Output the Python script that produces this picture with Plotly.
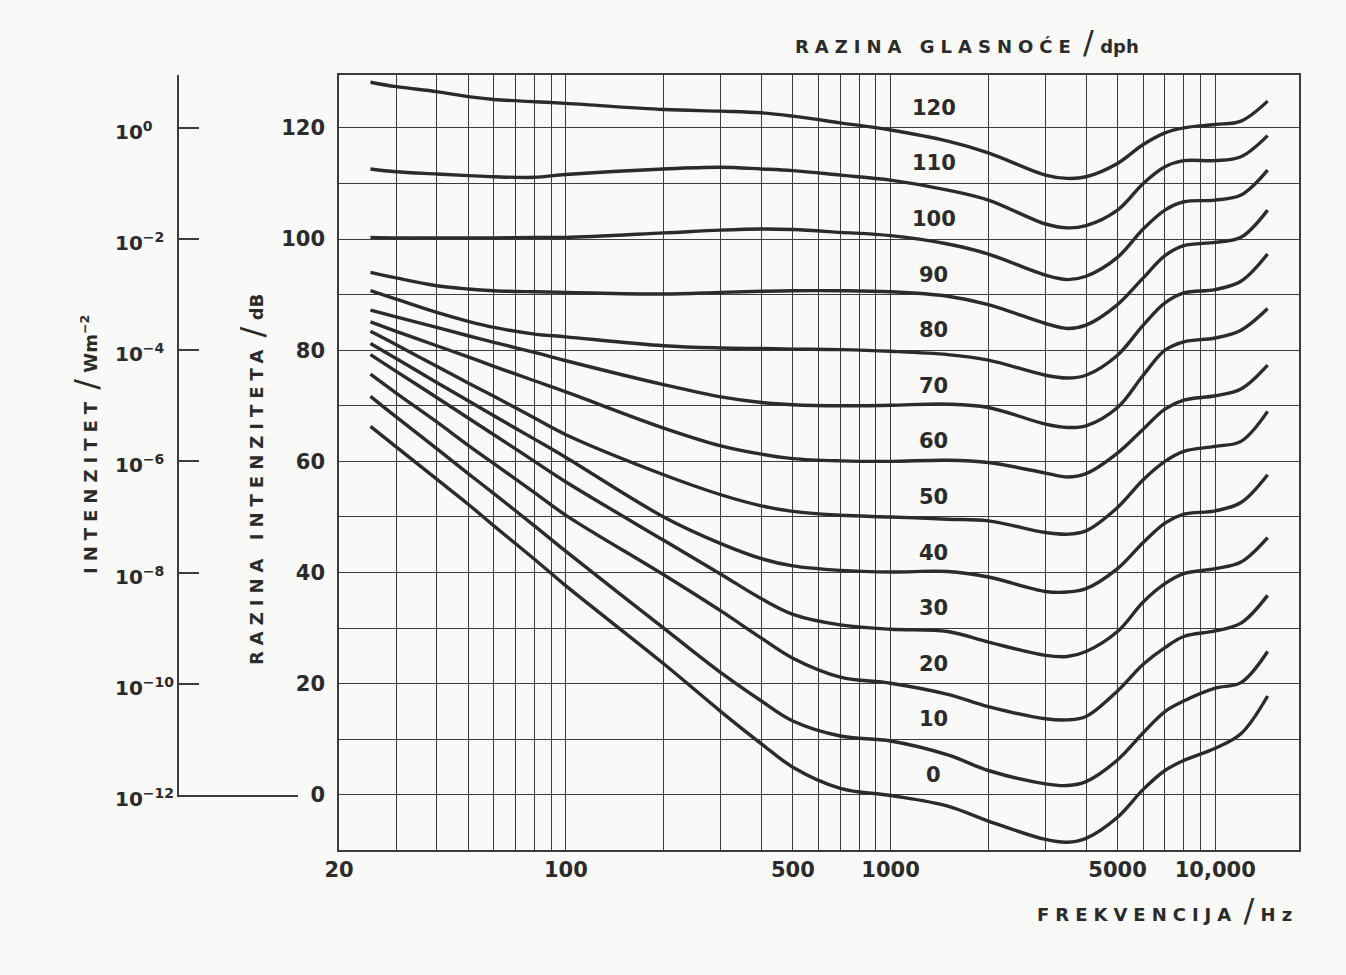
import math
import plotly.graph_objects as go

# ---------------- data ----------------
FREQ_HZ = [25, 30, 40, 50, 60, 80, 100, 200, 300, 400, 500, 700, 1000, 1500,
           2000, 3000, 3500, 4000, 5000, 6000, 7000, 8000, 10000, 12000, 14500]

L120 = [128.2, 127.4, 126.5, 125.6, 125.1, 124.7, 124.4, 123.3, 123.0, 122.7, 122.1, 120.9, 119.6, 117.6,
        115.5, 111.5, 110.9, 111.2, 113.6, 117.0, 119.1, 120.0, 120.6, 121.2, 124.8]
L110 = [112.6, 112.1, 111.7, 111.4, 111.2, 111.1, 111.6, 112.6, 112.9, 112.6, 112.3, 111.5, 110.6, 108.8,
        107.0, 102.7, 102.0, 102.4, 105.2, 110.0, 113.0, 114.1, 114.1, 114.8, 118.6]
L100 = [100.3, 100.2, 100.2, 100.2, 100.2, 100.3, 100.3, 101.1, 101.6, 101.8, 101.7, 101.2, 100.6, 99.1,
        97.3, 93.5, 92.7, 93.3, 96.7, 101.8, 105.2, 106.7, 107.0, 107.9, 112.4]
L90 = [94.0, 93.0, 91.6, 91.0, 90.7, 90.5, 90.4, 90.1, 90.4, 90.6, 90.7, 90.7, 90.5, 89.7,
       88.2, 84.8, 83.9, 84.5, 88.2, 93.0, 97.0, 98.8, 99.4, 100.3, 105.2]
L80 = [90.7, 89.2, 86.8, 85.2, 84.1, 82.9, 82.4, 80.8, 80.4, 80.3, 80.2, 80.1, 79.8, 79.2,
       78.2, 75.5, 75.0, 75.5, 79.1, 84.5, 88.5, 90.3, 90.9, 92.4, 97.3]
L70 = [87.2, 86.0, 84.1, 82.6, 81.4, 79.6, 78.1, 73.8, 71.6, 70.6, 70.2, 70.0, 70.1, 70.3,
       69.7, 66.7, 66.1, 66.4, 69.7, 75.5, 80.0, 81.5, 82.2, 83.6, 87.5]
L60 = [85.1, 83.4, 80.8, 78.8, 77.1, 74.5, 72.5, 66.0, 62.8, 61.3, 60.5, 60.1, 60.0, 60.2,
       59.8, 57.9, 57.2, 57.8, 61.5, 65.8, 69.4, 71.0, 71.8, 73.0, 77.3]
L50 = [83.4, 81.0, 77.1, 74.1, 71.7, 67.8, 64.8, 57.6, 54.0, 52.0, 51.0, 50.3, 50.0, 49.6,
       49.3, 47.2, 46.9, 47.5, 51.7, 56.7, 60.0, 61.8, 62.7, 63.6, 69.0]
L40 = [81.2, 78.5, 74.2, 70.9, 68.2, 64.0, 60.7, 50.0, 45.2, 42.5, 41.2, 40.4, 40.1, 40.2,
       39.2, 36.6, 36.5, 37.1, 40.7, 45.4, 48.9, 50.5, 51.1, 52.6, 57.6]
L30 = [79.2, 76.2, 71.5, 67.8, 64.8, 60.0, 56.3, 45.8, 39.7, 35.3, 32.5, 30.6, 29.8, 29.4,
       27.5, 25.1, 24.9, 25.8, 29.4, 34.7, 38.0, 39.8, 40.7, 41.9, 46.3]
L20 = [75.7, 72.3, 67.1, 62.9, 59.6, 54.4, 50.3, 39.6, 33.1, 28.2, 24.6, 21.2, 20.1, 18.1,
       15.9, 13.7, 13.5, 14.1, 18.7, 23.5, 26.5, 28.5, 29.5, 30.9, 35.9]
L10 = [71.7, 68.0, 62.3, 57.8, 54.2, 48.4, 43.8, 30.0, 22.0, 16.9, 13.3, 10.6, 9.7, 7.2,
       4.4, 2.0, 1.7, 2.4, 6.3, 11.2, 15.0, 16.9, 19.2, 20.2, 25.8]
L0 = [66.3, 62.6, 56.8, 52.3, 48.4, 42.4, 37.6, 23.6, 15.0, 9.2, 5.0, 1.2, -0.1, -2.0,
      -4.7, -8.0, -8.5, -7.8, -4.0, 1.0, 4.4, 6.2, 8.4, 11.0, 17.8]

LEVELS = [0, 10, 20, 30, 40, 50, 60, 70, 80, 90, 100, 110, 120]
CURVES = [L0, L10, L20, L30, L40, L50, L60, L70, L80, L90, L100, L110, L120]

X_LABEL_HZ = [20, 100, 500, 1000, 5000, 10000]
X_LABEL_TEXT = ["20", "100", "500", "1000", "5000", "10,000"]
X_MINOR_HZ = [30, 40, 50, 60, 70, 80, 90,
              200, 300, 400, 600, 700, 800, 900,
              2000, 3000, 4000, 6000, 7000, 8000, 9000]

DB_LABEL_VALS = [0, 20, 40, 60, 80, 100, 120]
DB_LABEL_TEXT = ["0", "20", "40", "60", "80", "100", "120"]
DB_MINOR_VALS = [10, 30, 50, 70, 90, 110]

INTENSITY_DB = [0, 20, 40, 60, 80, 100, 120]
INTENSITY_LABELS = ["10<sup>−12</sup>", "10<sup>−10</sup>", "10<sup>−8</sup>", "10<sup>−6</sup>",
                    "10<sup>−4</sup>", "10<sup>−2</sup>", "10<sup>0</sup>"]

for c in CURVES:
    assert len(c) == len(FREQ_HZ)

# ---------------- style ----------------
INK = "#2b2b2b"
GRID = "#3c3c3c"
PAPER = "#f9f9f7"
FONT = "DejaVu Sans"

W, H = 1346, 975
ML, MR, MT, MB = 60, 47, 75, 125
PW = W - ML - MR
PH = H - MT - MB


def px_x(px):
    return (px - ML) / PW


def px_y(py):
    return (H - MB - py) / PH


fig = go.Figure()

for lvl, ys in zip(LEVELS, CURVES):
    fig.add_trace(go.Scatter(
        x=FREQ_HZ, y=ys, mode="lines", name=f"{lvl}",
        line=dict(color=INK, width=3.4, shape="spline", smoothing=1.0),
        showlegend=False, hoverinfo="x+y"))

# trace that creates the intensity side-axis subplot (no marks)
fig.add_trace(go.Scatter(x=[None], y=[None], xaxis="x2", yaxis="y2",
                         showlegend=False, hoverinfo="skip"))

# curve labels (loudness level in phon)
for lvl in LEVELS:
    fig.add_annotation(x=math.log10(1360), y=lvl + 3.6, xref="x", yref="y",
                       text=str(lvl), showarrow=False,
                       font=dict(family=FONT, size=21, color=INK, weight="bold"))

# intensity labels
for v, t in zip(INTENSITY_DB, INTENSITY_LABELS):
    fig.add_annotation(x=px_x(113), y=v, xref="paper", yref="y2", xanchor="left",
                       yanchor="middle", text=t, showarrow=False, yshift=-3,
                       font=dict(family=FONT, size=20, color=INK, weight="bold"))

sp = 'letter-spacing:6px'
slash = '<span style="font-weight:normal;font-size:32px">/</span>'
TFONT = dict(family=FONT, size=18, color=INK, weight="bold")

fig.add_annotation(x=px_x(967), y=px_y(42), xref="paper", yref="paper",
                   text=f'<span style="{sp}">RAZINA GLASNOĆE</span> {slash} dph',
                   showarrow=False, xanchor="center", yanchor="middle", font=TFONT)
fig.add_annotation(x=px_x(1300), y=px_y(910), xref="paper", yref="paper",
                   text=f'<span style="{sp}">FREKVENCIJA</span> {slash} <span style="{sp}">Hz</span>',
                   showarrow=False, xanchor="right", yanchor="middle", font=TFONT)
fig.add_annotation(x=px_x(252), y=px_y(480), xref="paper", yref="paper",
                   text=f'<span style="{sp}">RAZINA INTENZITETA</span> {slash} dB',
                   showarrow=False, textangle=-90, xanchor="center", yanchor="middle", font=TFONT)
fig.add_annotation(x=px_x(86), y=px_y(445), xref="paper", yref="paper",
                   text=f'<span style="{sp}">INTENZITET</span> {slash} Wm<sup>−2</sup>',
                   showarrow=False, textangle=-90, xanchor="center", yanchor="middle", font=TFONT)

TICKFONT = dict(family=FONT, size=21, color=INK, weight="bold")

fig.update_layout(
    width=W, height=H,
    margin=dict(l=ML, r=MR, t=MT, b=MB),
    paper_bgcolor=PAPER, plot_bgcolor="rgba(0,0,0,0)",
    showlegend=False,
    xaxis=dict(
        type="log", domain=[px_x(339), 1.0], range=[math.log10(20), 4.258],
        tickmode="array", tickvals=X_LABEL_HZ, ticktext=X_LABEL_TEXT,
        showgrid=True, gridcolor=GRID, gridwidth=1.2,
        minor=dict(tickmode="array", tickvals=X_MINOR_HZ, showgrid=True,
                   gridcolor=GRID, gridwidth=1.2, ticks=""),
        showline=True, linecolor=GRID, linewidth=1.5, mirror=True,
        ticks="", ticklabelstandoff=0, zeroline=False,
        tickfont=TICKFONT, anchor="y"),
    yaxis=dict(
        range=[-9.9, 129.5], tickmode="array", tickvals=DB_LABEL_VALS, ticktext=DB_LABEL_TEXT,
        showgrid=True, gridcolor=GRID, gridwidth=1.2,
        minor=dict(tickmode="array", tickvals=DB_MINOR_VALS, showgrid=True,
                   gridcolor=GRID, gridwidth=1.2, ticks=""),
        showline=True, linecolor=GRID, linewidth=1.5, mirror=True,
        ticks="", ticklabelstandoff=8, zeroline=False,
        tickfont=TICKFONT, anchor="x"),
    xaxis2=dict(
        domain=[px_x(179), px_x(298)], range=[0, 1], anchor="y2",
        showline=True, linecolor=GRID, linewidth=1.5,
        showgrid=False, zeroline=False, showticklabels=False, ticks=""),
    yaxis2=dict(
        domain=[px_y(795), 1.0], range=[0, 129.5], anchor="x2", side="left",
        showline=True, linecolor=GRID, linewidth=1.5,
        tickmode="array", tickvals=INTENSITY_DB[1:], ticks="inside", ticklen=20, tickwidth=1.5,
        tickcolor=GRID, showticklabels=False, showgrid=False, zeroline=False),
)

fig.write_html("out.html", config={"displayModeBar": False},
               post_script="document.body.style.margin='0px';")
